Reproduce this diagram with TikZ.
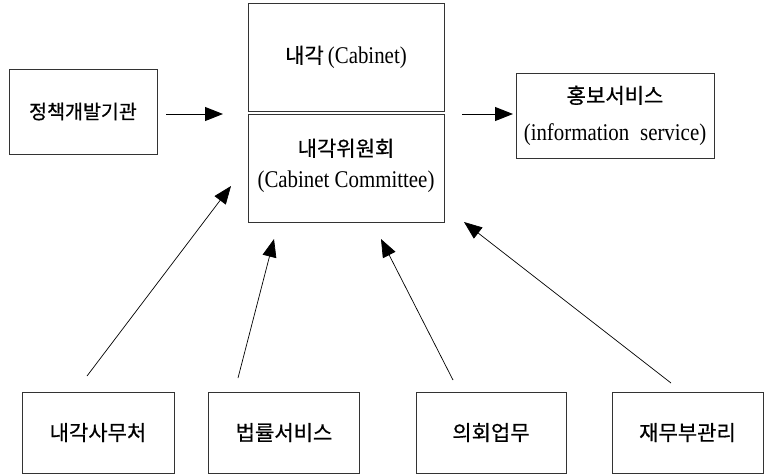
\documentclass[tikz,border=0pt]{standalone}
\usepackage{fontspec}
\setmainfont[FakeStretch=0.87]{Liberation Serif}
\newfontfamily\kr[FakeBold=0.6]{Noto Sans CJK KR}
\usetikzlibrary{arrows.meta}
\begin{document}
\begin{tikzpicture}[x=1pt,y=-1pt,
  box/.style={draw=black!80,line width=0.8pt,inner sep=0pt,align=center,
    font=\fontsize{24}{24}\selectfont},
  ko/.style={font=\kr\fontsize{21}{21}\selectfont},
  arr/.style={line width=1pt,-{Triangle[length=18pt,width=14pt]}}]
\useasboundingbox (0,0) rectangle (764,475);
% central boxes
\node[box,minimum width=196,minimum height=108] (cab) at (346,57) {{\kr\fontsize{21}{21}\selectfont 내각}\,(Cabinet)};
\node[box,minimum width=196,minimum height=108] (com) at (346,168) {};
\node[box,draw=none] (comt) at (346,165.5) {{\kr\fontsize{21}{21}\selectfont 내각위원회}\\[7pt](Cabinet Committee)};
\node[box,minimum width=148,minimum height=85] (pol) at (83,111.5) {{\kr\fontsize{19.5}{21}\selectfont 정책개발기관}};
\node[box,minimum width=198,minimum height=85] (pr) at (615,115.5) {{\kr\fontsize{21}{21}\selectfont 홍보서비스}\\[13pt](information\hspace{0.45em}service)};
% bottom boxes
\node[box,ko,minimum width=152,minimum height=81] (b1) at (98,432.5) {내각사무처};
\node[box,ko,minimum width=151,minimum height=81] (b2) at (284,432.5) {법률서비스};
\node[box,ko,minimum width=150,minimum height=81] (b3) at (491,432.5) {의회업무};
\node[box,ko,minimum width=151,minimum height=81] (b4) at (687.5,432.5) {재무부관리};
% connector end points
\coordinate (a1s) at (166,114); \coordinate (a1e) at (223,114);
\coordinate (a2s) at (462,114); \coordinate (a2e) at (513,114);
\coordinate (t1) at (87,376);  \coordinate (h1) at (231,186);
\coordinate (t2) at (238,378); \coordinate (h2) at (274,239);
\coordinate (t3) at (453,380); \coordinate (h3) at (381,239);
\coordinate (t4) at (671,383); \coordinate (h4) at (464,222);
\draw[arr] (a1s) -- (a1e);
\draw[arr] (a2s) -- (a2e);
\draw[arr,line width=0.7pt] (t1) -- (h1);
\draw[arr,line width=0.7pt] (t2) -- (h2);
\draw[arr,line width=0.7pt] (t3) -- (h3);
\draw[arr,line width=0.7pt] (t4) -- (h4);
\end{tikzpicture}
\end{document}
